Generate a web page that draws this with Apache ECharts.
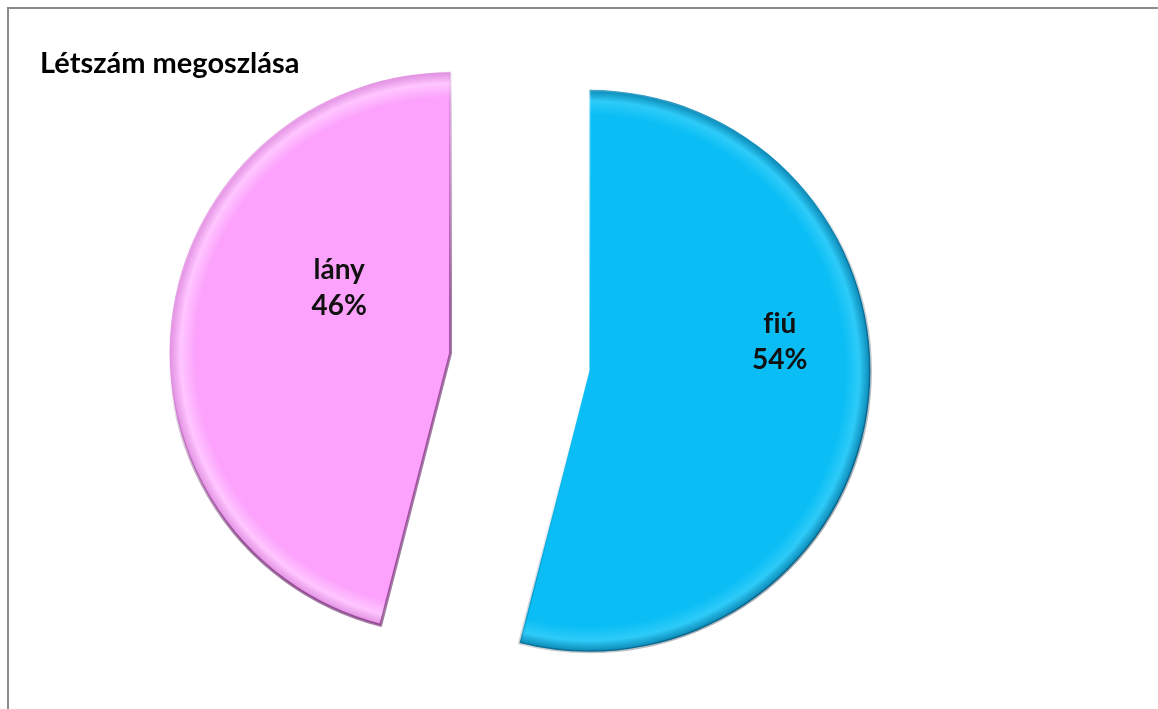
<!DOCTYPE html>
<html>
<head>
<meta charset="utf-8">
<script src="https://cdn.jsdelivr.net/npm/echarts@6/dist/echarts.min.js"></script>
<style>
  html, body { margin: 0; padding: 0; background: #ffffff; }
  #chart { width: 1158px; height: 709px; }
</style>
</head>
<body>
<div id="chart"></div>
<script>
// Headcount split by gender
const titleText = 'Létszám megoszlása';
const categories = ['fiú', 'lány'];
const shares = [54, 46];

// Pie geometry (before the slices are pulled apart)
const pieCenter = [520, 362];
const pieRadius = 281;

function rimFill(base, light, dark) {
  return {
    type: 'radial', x: pieCenter[0], y: pieCenter[1], r: pieRadius, global: true,
    colorStops: [
      { offset: 0, color: base },
      { offset: 0.91, color: base },
      { offset: 0.96, color: light },
      { offset: 1, color: dark }
    ]
  };
}

// Bevel-like edge: light towards the upper left, shaded towards the lower right
function edgeStroke(x, y, x2, y2, shade) {
  return {
    type: 'linear', x: x, y: y, x2: x2, y2: y2, global: true,
    colorStops: [
      { offset: 0, color: 'rgba(255,255,255,0.5)' },
      { offset: 0.45, color: 'rgba(255,255,255,0)' },
      { offset: 0.6, color: shade.replace('A', '0.15') },
      { offset: 1, color: shade.replace('A', '0.5') }
    ]
  };
}

const sliceStyles = [
  {
    fill: rimFill('#0ABEF5', '#2ECBF8', '#0A86B4'),
    edge: edgeStroke(250, 80, 850, 650, 'rgba(0,20,40,A)'),
    labelShift: [48, -47]
  },
  {
    fill: rimFill('#FCA2FC', '#FFC6FF', '#E08EE0'),
    edge: edgeStroke(260, 120, 500, 330, 'rgba(70,0,70,A)'),
    labelShift: [31, -47]
  }
];

const chart = echarts.init(document.getElementById('chart'));

chart.setOption({
  animation: false,
  backgroundColor: '#ffffff',
  title: {
    text: titleText,
    left: 35,
    top: 44,
    textStyle: { fontFamily: 'Lato', fontWeight: 'bold', fontSize: 29, color: '#000000' }
  },
  graphic: [{
    type: 'rect',
    shape: { x: 8, y: 8, width: 1300, height: 900 },
    style: { fill: 'none', stroke: '#8a8a8a', lineWidth: 2 },
    silent: true
  }],
  series: [{
    type: 'pie',
    center: pieCenter,
    radius: pieRadius,
    startAngle: 90,
    clockwise: true,
    selectedMode: 'multiple',
    selectedOffset: 70,
    emphasis: { disabled: true },
    label: {
      show: true,
      position: 'inside',
      // keep "f" and "i" as separate glyphs (no fi ligature)
      formatter: (p) => p.name.replace('fi', 'f\u200Ci') + '\n' + p.value + '%',
      fontFamily: 'Lato',
      fontWeight: 'bold',
      fontSize: 28,
      lineHeight: 36,
      color: '#111111'
    },
    labelLine: { show: false },
    labelLayout: function (params) {
      const shift = sliceStyles[params.dataIndex].labelShift;
      return { dx: shift[0], dy: shift[1] };
    },
    data: categories.map((name, i) => ({
      name: name,
      value: shares[i],
      selected: true,
      itemStyle: {
        color: sliceStyles[i].fill,
        borderColor: sliceStyles[i].edge,
        borderWidth: 3
      }
    }))
  }]
});
</script>
</body>
</html>
